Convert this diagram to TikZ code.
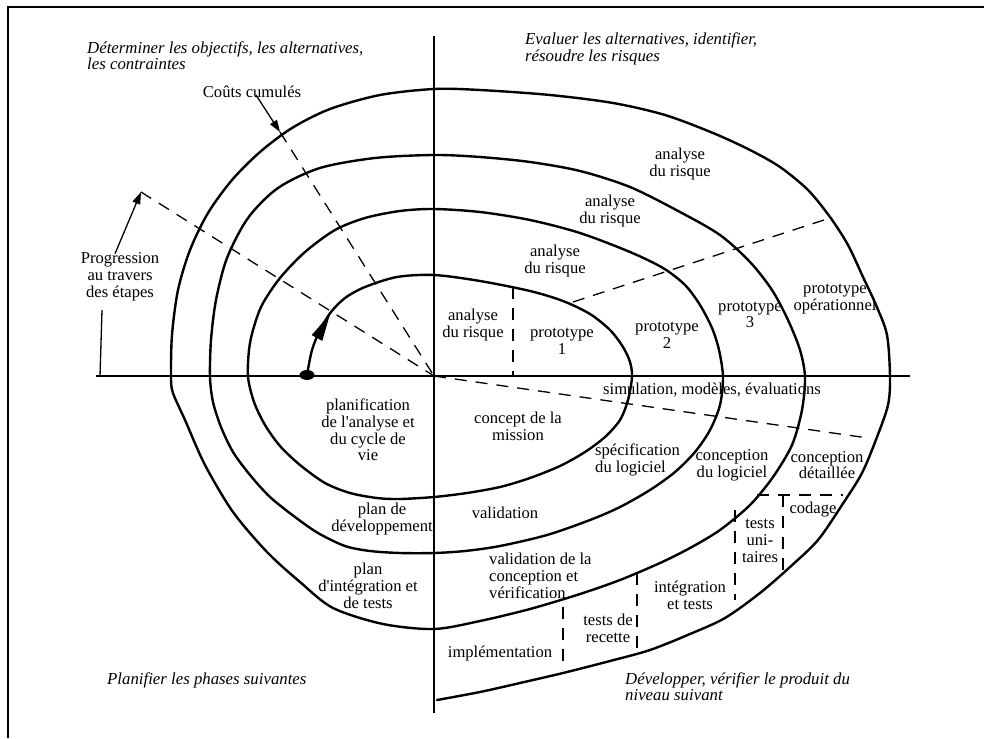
\documentclass[tikz,border=0pt]{standalone}
\usepackage{fontspec}
\setmainfont{Liberation Serif}
\newfontfamily\aposfont{Liberation Serif}[Ligatures=ResetAll]
\newcommand\ap{{\aposfont\char"27}}
\usetikzlibrary{arrows.meta}
\begin{document}
\begin{tikzpicture}[x=1pt,y=-1pt,
  spiral/.style={line width=2.4pt, line join=round, line cap=round},
  axis/.style={line width=1.2pt},
  dsh/.style={line width=1.3pt, dash pattern=on 12pt off 9pt},
  lbl/.style={align=center, inner sep=0pt, font=\fontsize{16.6}{16.8}\selectfont},
  lbll/.style={align=left, inner sep=0pt, font=\fontsize{16.6}{16.8}\selectfont},
  ital/.style={align=left, inner sep=0pt, font=\fontsize{16.8}{16.5}\selectfont\itshape},
  pointer/.style={line width=1.3pt, -{Triangle[length=12pt,width=8pt]}}]
\useasboundingbox (0,0) rectangle (984,738);
\fill[white] (0,0) rectangle (984,738);
% frame
\draw[line width=2.2pt] (8,738) -- (8,7) -- (984,7);
% axes
\coordinate (O) at (434,376);
\coordinate (axL) at (96,376);
\coordinate (axR) at (910,376);
\coordinate (axT) at (434,36);
\coordinate (axB) at (434,713);
\draw[axis] (axL) -- (axR);
\draw[axis] (axT) -- (axB);
% spiral
\draw[spiral] plot[smooth, tension=0.5] coordinates {
(307,375) (312,350) (320,330) (331,312) (345,298) (365,287) (397,277) (434,275)
(480,281) (530,291) (563,301) (590,314) (610,330) (623,347) (630,362) (632,377)
(628,400) (620,420) (605,437) (585,452) (560,466) (530,478) (500,487) (467,493) (434,497)
(400,499) (377,498) (350,493) (325,483) (300,465) (280,446) (265,425) (254,402) (248,377)
(249,350) (253,330) (262,305) (280,278) (305,252) (335,230) (365,218) (400,211) (434,209)
(480,212) (530,220) (580,233) (630,252) (663,268) (685,285) (700,305) (712,328) (719,350) (723,377)
(720,405) (710,430) (695,452) (675,472) (650,490) (620,507) (590,520) (547,535) (500,546) (465,551) (434,553)
(400,553) (370,551) (345,546) (318,533) (295,517) (270,497) (250,475) (233,452) (221,427) (213,402) (210,377)
(211,340) (216,300) (227,258) (248,218) (278,188) (320,168) (375,158) (434,155)
(480,157) (530,162) (580,171) (630,187) (680,212) (720,235) (750,262) (772,290) (788,320) (800,350) (805,377)
(802,410) (792,445) (773,477) (750,505) (720,530) (690,548) (660,563) (620,580) (580,594) (530,609) (480,621) (434,629)
(383,624) (333,608) (300,582) (267,552) (233,512) (205,465) (185,420) (173,393) (171,377)
(172,335) (178,290) (190,250) (208,213) (232,180) (260,152) (292,128) (330,109) (380,95) (434,89)
(480,90) (550,95) (613,103) (665,115) (713,133) (750,150) (780,167) (808,190) (830,217) (848,245) (863,277) (876,305) (887,335) (890,377)
(888,405) (877,437) (862,473) (842,505) (818,540) (790,567) (760,593) (725,618) (690,634) (650,650) (610,661) (563,673) (520,683) (480,692) (437,700)};
% start dot and arrow
\fill (307,375) ellipse [x radius=7.5, y radius=5];
\fill (330,314) -- (322.3,340.9) -- (311.7,335.1) -- cycle;
% dashed lines
\coordinate (p1) at (141,192);
\coordinate (cc) at (280,132);
\coordinate (dr) at (868,438);
\coordinate (u1) at (573,302);
\coordinate (u2) at (830,218);
\draw[dsh] (p1) -- (O);
\draw[dsh] (cc) -- (O);
\draw[dsh] (O) -- (dr);
\draw[dsh] (u1) -- (u2);
\draw[dsh] (513,287) -- (513,376);
\draw[dsh] (757,495) -- (843,495);
\draw[dsh] (783,495) -- (783,577);
\draw[dsh] (735,510) -- (735,600);
\draw[dsh] (637,573) -- (637,657);
\draw[dsh] (563,607) -- (563,670);
% quadrant titles
\node[ital, anchor=west] (q1) at (87,55.5) {Déterminer les objectifs, les alternatives,\\les contraintes};
\node[ital, anchor=west] (q2) at (525,49) {Evaluer les alternatives, identifier,\\résoudre les risques};
\node[ital, anchor=west] (q3) at (107,680) {Planifier les phases suivantes};
\node[ital, anchor=west] (q4) at (625,686.5) {Développer, vérifier le produit du\\niveau suivant};
% side labels
\node[lbl] (couts) at (252,92) {Coûts cumulés};
\draw[pointer] ([xshift=4pt,yshift=3pt]couts.south) -- (cc);
\node[lbl] (prog) at (120,277) {Progression\\au travers\\des étapes};
\coordinate (pa) at (102,310);
\coordinate (pb) at (100,376);
\draw[line width=1.3pt] (pa) -- (pb);
\draw[pointer] ([xshift=-5pt,yshift=-1pt]prog.north) -- (p1);
% inner labels
\node[lbl] (an1) at (473,325) {analyse\\du risque};
\node[lbl] (an2) at (555,261) {analyse\\du risque};
\node[lbl] (an3) at (610,211) {analyse\\du risque};
\node[lbl] (an4) at (680,164) {analyse\\du risque};
\node[lbl] (pr1) at (562,341) {prototype\\1};
\node[lbl] (pr2) at (667,335) {prototype\\2};
\node[lbl] (pr3) at (750,315) {prototype\\3};
\node[lbl] (pr4) at (835,299) {prototype\\opérationnel};
\node[lbl] (sim) at (712,390) {simulation, modèles, évaluations};
\node[lbl] (cm) at (518,426) {concept de la\\mission};
\node[lbll, anchor=west] (sl) at (595,460) {spécification\\du logiciel};
\node[lbl] (cl) at (732,465) {conception\\du logiciel};
\node[lbl] (cd) at (827,465) {conception\\détaillée};
\node[lbl] (cod) at (813,510) {codage};
\node[lbl] (tu) at (760,541) {tests\\uni-\\taires};
\node[lbl] (it) at (690,595) {intégration\\et tests};
\node[lbl] (tr) at (608,628) {tests de\\recette};
\node[lbl] (imp) at (500,653) {implémentation};
\node[lbll, anchor=west] (vcv) at (489,576) {validation de la\\conception et\\vérification};
\node[lbl] (val) at (505,513) {validation};
\node[lbl] (pl) at (368,430) {planification\\de l\ap analyse et\\du cycle de\\vie};
\node[lbl] (pd) at (382,519) {plan de\\développement};
\node[lbl] (pit) at (368,586) {plan\\d\ap intégration et\\de tests};
\end{tikzpicture}
\end{document}
